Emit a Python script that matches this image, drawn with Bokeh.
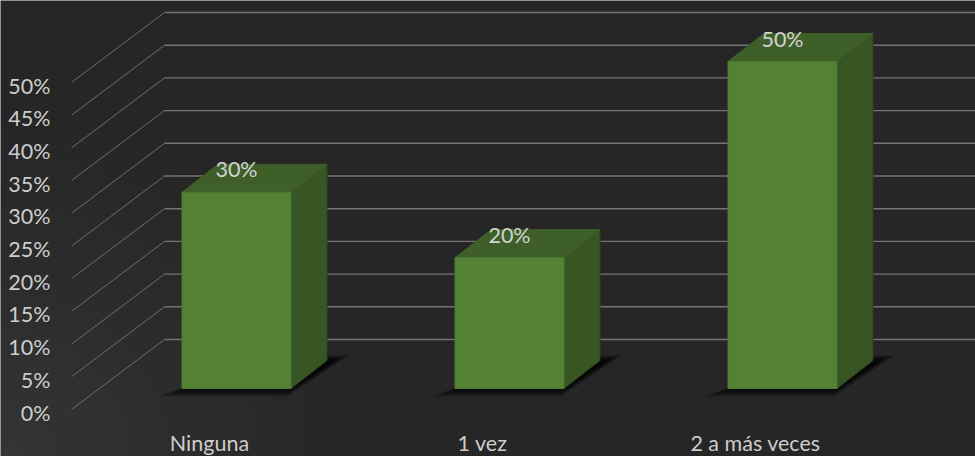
from bokeh.plotting import figure
from bokeh.embed import file_html
from bokeh.resources import INLINE
from bokeh.core.properties import value
import numpy as np

categories = ["Ninguna", "1 vez", "2 a más veces"]
shares = [30, 20, 50]
share_labels = ["30%", "20%", "50%"]
tick_values = [0, 5, 10, 15, 20, 25, 30, 35, 40, 45, 50]
tick_labels = ["0%", "5%", "10%", "15%", "20%", "25%", "30%", "35%", "40%", "45%", "50%"]

W, H = 975, 456
PX_X = 273.0   # pixels per category step
PX_Y = 6.54    # pixels per percentage point
x_range = (-236 / PX_X, (W - 236) / PX_X)
y_range = ((388 - H) / PX_Y, 388 / PX_Y)

# Oblique projection offsets, in data units
half_w = 54.5 / PX_X
depth_x = 36 / PX_X
depth_y = 28 / PX_Y
floor_drop = 21 / PX_Y
wall_x = (164 - 71) / PX_X
wall_y = 70 / PX_Y
wall_left = (71 - 236) / PX_X

p = figure(width=W, height=H, x_range=x_range, y_range=y_range,
           output_backend="svg", toolbar_location=None, min_border=0,
           background_fill_color="#262626", border_fill_color="#262626",
           outline_line_color=None, x_axis_type=None, y_axis_type=None)
p.grid.visible = False

# Soft glow rising from the lower-left corner of the panel (row 0 is the bottom row)
gy, gx = np.mgrid[0:57, 0:122]
dist = np.hypot(gx / 122 * W, gy / 56 * H)
glow = np.clip(1 - dist / 420, 0, 1) ** 1.4
rgba = np.zeros(gx.shape, dtype=np.uint32)
view = rgba.view(np.uint8).reshape(gx.shape + (4,))
view[..., :3] = 255
view[..., 3] = (glow * 18).astype(np.uint8)
p.image_rgba(image=[rgba], x=x_range[0], y=y_range[0],
             dw=x_range[1] - x_range[0], dh=y_range[1] - y_range[0])

# Floor and back-wall gridlines
for v in tick_values:
    y_front = v - floor_drop
    p.line([wall_left, wall_left + wall_x], [y_front, y_front + wall_y],
           line_color="#6e6e6e", line_width=1)
    p.line([wall_left + wall_x, x_range[1]], [y_front + wall_y, y_front + wall_y],
           line_color="#747474", line_width=1.4)

# Value axis labels
label_x = (50 - 236) / PX_X
p.text([label_x] * len(tick_values), [v - floor_drop for v in tick_values], text=tick_labels,
       text_font=value("Lato"), text_font_size="21.5px", text_color="#cdcdcd",
       text_align="right", text_baseline="middle", y_offset=3)

# Bars: soft contact shadow built from stacked translucent layers, then the three faces
for i, v in enumerate(shares):
    for k in range(18):
        g = (17 - k) * 1.0 / PX_X
        gv = (17 - k) * 0.55 / PX_Y
        xs = [i - half_w - 2 / PX_X - g * 1.3, i + half_w - g * 0.2,
              i + half_w + depth_x + 4 / PX_X + g * 1.1, i + half_w + depth_x - 8 / PX_X - g]
        ys = [1 / PX_Y - gv, 1 / PX_Y - gv, depth_y - 1 / PX_Y + gv * 0.7, depth_y - 1 / PX_Y + gv * 0.7]
        p.patch(xs, ys, fill_color="#050505", fill_alpha=0.075, line_color=None)

    left, right = i - half_w, i + half_w
    p.patch([right, right + depth_x, right + depth_x, right],
            [0, depth_y, v + depth_y, v],
            fill_color="#375623", line_color="#2c451c", line_width=1)
    p.patch([left, right, right + depth_x, left + depth_x],
            [v, v, v + depth_y, v + depth_y],
            fill_color="#3f5f28", line_color="#3f5f28", line_width=1)
    p.quad(left=left, right=right, bottom=0, top=v,
           fill_color="#548235", line_color="#4d7830", line_width=1)

# Value labels sit on the top face of each bar
p.text(list(range(len(shares))), shares, text=share_labels,
       text_font=value("Lato"), text_font_size="21.5px", text_color="#d2d2d2",
       text_align="center", text_baseline="middle", y_offset=-23)

# Category labels
label_y = (388 - 442) / PX_Y
p.text([i - 27 / PX_X for i in range(3)], [label_y] * 3, text=categories,
       text_font=value("Lato"), text_font_size="21.5px", text_color="#cdcdcd",
       text_align="center", text_baseline="middle")

open("out.html", "w").write(file_html(p, INLINE))
